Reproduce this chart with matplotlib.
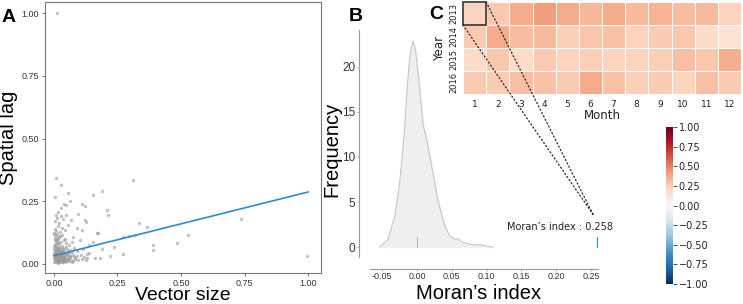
import numpy as np
import matplotlib
matplotlib.use("Agg")
import matplotlib.pyplot as plt
from matplotlib.patches import Rectangle, ConnectionPatch
from matplotlib.colors import Normalize

# ---------------- data ----------------
# Panel A scatter (vector size vs spatial lag)
scatter_x = [
    # dense cluster
    0.001,0.004,0.007,0.010,0.013,0.016,0.019,0.022,0.026,0.030,0.034,0.038,0.043,0.048,0.054,0.060,0.067,0.075,0.085,0.095,0.110,0.125,0.003,0.009,0.015,0.021,0.028,0.036,0.045,0.056,0.070,
    0.002,0.005,0.008,0.011,0.014,0.017,0.020,0.024,0.028,0.032,0.036,0.041,0.046,0.052,0.058,0.065,0.073,0.082,0.092,0.105,0.118,0.130,0.006,0.012,0.018,0.025,0.033,0.040,0.050,0.062,0.078,0.001,0.009,0.015,0.022,0.030,0.038,
    0.001,0.004,0.007,0.010,0.013,0.016,0.019,0.023,0.027,0.031,0.035,0.040,0.045,0.051,0.057,0.064,0.072,0.080,0.090,0.003,0.009,0.015,0.021,0.029,0.037,0.047,0.060,0.002,0.012,0.025,
    0.001,0.004,0.007,0.010,0.014,0.018,0.022,0.027,0.033,0.040,0.048,0.058,0.070,0.003,0.008,0.013,0.020,0.030,0.045,0.002,0.006,0.011,0.017,0.025,
    0.002,0.005,0.010,0.016,0.024,0.032,0.042,0.055,0.004,0.012,0.020,0.035,0.008,0.028,
    0.003,0.006,0.009,0.012,0.015,0.018,0.021,0.024,0.027,0.031,0.035,0.039,0.044,0.049,0.005,0.011,0.017,0.023,0.029,0.034,
    # scattered
    0.011,0.008,0.026,0.056,0.004,0.310,0.155,0.190,0.039,0.047,0.063,0.026,0.017,0.109,0.122,0.047,0.093,0.207,0.214,0.066,
    0.122,0.126,0.089,0.109,0.168,0.175,0.336,0.365,0.270,0.297,0.319,0.076,0.102,0.155,0.139,0.237,0.188,0.161,0.181,0.220,
    0.270,0.389,0.389,0.486,0.526,0.737,0.997,0.140,0.115,0.130,
]
scatter_y = [
    0.008,0.012,0.006,0.015,0.010,0.018,0.007,0.013,0.016,0.009,0.014,0.011,0.019,0.008,0.015,0.012,0.017,0.010,0.020,0.014,0.018,0.016,0.020,0.018,0.005,0.009,0.020,0.006,0.011,0.019,0.007,
    0.022,0.028,0.035,0.025,0.031,0.038,0.024,0.029,0.036,0.023,0.033,0.027,0.039,0.025,0.032,0.028,0.037,0.024,0.030,0.034,0.026,0.022,0.040,0.021,0.027,0.033,0.038,0.022,0.035,0.026,0.031,0.037,0.030,0.024,0.034,0.039,0.021,
    0.042,0.048,0.055,0.061,0.045,0.052,0.066,0.043,0.058,0.047,0.063,0.051,0.044,0.059,0.049,0.054,0.046,0.062,0.050,0.068,0.041,0.057,0.064,0.053,0.045,0.067,0.043,0.060,0.069,0.050,
    0.072,0.080,0.091,0.075,0.085,0.098,0.078,0.088,0.073,0.094,0.082,0.076,0.089,0.105,0.112,0.101,0.108,0.115,0.100,0.118,0.095,0.120,0.086,0.110,
    0.125,0.140,0.132,0.150,0.128,0.145,0.135,0.155,0.170,0.185,0.162,0.178,0.195,0.190,
    0.026,0.033,0.018,0.041,0.024,0.030,0.016,0.044,0.021,0.037,0.019,0.028,0.035,0.017,0.050,0.056,0.046,0.053,0.048,0.058,
    1.000,0.342,0.315,0.285,0.266,0.335,0.275,0.292,0.238,0.235,0.252,0.222,0.209,0.238,0.231,0.195,0.198,0.215,0.195,0.175,
    0.175,0.169,0.142,0.136,0.122,0.122,0.162,0.146,0.109,0.113,0.116,0.109,0.096,0.089,0.076,0.067,0.059,0.023,0.023,0.033,
    0.039,0.075,0.056,0.082,0.117,0.178,0.032,0.045,0.060,0.040,
]
fit_intercept = 0.033
fit_slope = 0.254
fit_x = [0.0, 1.0]

# Panel B density of Moran's index
density_x = [-0.054,-0.042,-0.032,-0.025,-0.019,-0.0144,-0.0105,-0.0057,-0.002,0.003,0.0086,0.016,0.023,0.030,0.040,0.047,0.054,0.059,0.066,0.080,0.092,0.100,0.109]
density_y = [0.0,0.8,3.4,7.1,11.9,17.4,21.1,22.9,21.8,18.2,13.7,11.1,8.2,5.2,2.3,1.2,0.9,0.9,0.5,0.26,0.26,0.1,0.0]
observed_moran = 0.258
null_mean = 0.0

# Panel C heatmap
years = ["2013", "2014", "2015", "2016"]
months = ["1","2","3","4","5","6","7","8","9","10","11","12"]
moran_2013 = [0.22,0.27,0.37,0.42,0.38,0.33,0.37,0.32,0.34,0.31,0.32,0.23]
moran_2014 = [0.26,0.37,0.31,0.32,0.24,0.28,0.29,0.23,0.25,0.27,0.19,0.14]
moran_2015 = [0.19,0.27,0.19,0.26,0.22,0.24,0.23,0.23,0.24,0.30,0.27,0.36]
moran_2016 = [0.26,0.25,0.30,0.29,0.26,0.37,0.29,0.24,0.25,0.22,0.30,0.26]
cbar_ticks = [-1.0,-0.75,-0.5,-0.25,0.0,0.25,0.5,0.75,1.0]

# ---------------- figure ----------------
W, H = 743, 304
fig = plt.figure(figsize=(W/100, H/100), dpi=100)

def fr(left, top, right, bottom):
    return [left/W, 1-bottom/H, (right-left)/W, (bottom-top)/H]

helv = "Liberation Sans"

# ---- Panel A ----
axA = fig.add_axes(fr(45, 2, 321, 273))
axA.scatter(scatter_x, scatter_y, s=6, color="#9a9a9a", alpha=0.6, linewidths=0, zorder=2)
fx = np.array(fit_x)
axA.plot(fx, fit_intercept + fit_slope*fx, color="#2a8bd5", lw=1.2, zorder=3)
axA.set_xlim(-0.035, 1.051)
axA.set_ylim(-0.036, 1.045)
ticks = [0, 0.25, 0.5, 0.75, 1.0]
axA.set_xticks(ticks)
axA.set_yticks(ticks)
axA.set_xticklabels(["%.2f" % t for t in ticks], fontsize=6.5, family=helv, color="#333333")
axA.set_yticklabels(["%.2f" % t for t in ticks], fontsize=6.5, family=helv, color="#333333")
axA.tick_params(length=2.5, width=0.6, color="#555555", pad=2)
for s in axA.spines.values():
    s.set_color("#777777"); s.set_linewidth(0.8)
axA.set_xlabel("Vector size", fontsize=14, family=helv, labelpad=-1)
axA.set_ylabel("Spatial lag", fontsize=14.5, family=helv, labelpad=2)
fig.text(2/W, 1-22/H, "A", fontsize=14, fontweight="bold", family=helv)

# ---- Panel B ----
axB = fig.add_axes(fr(359, 30, 598, 269))
axB.fill_between(density_x, 0, density_y, color="#efefef", zorder=1)
axB.plot(density_x, density_y, color="#c4c4c4", lw=0.7, zorder=2)
axB.plot([null_mean, null_mean], [0, 1.1], color="#b0b0b0", lw=0.7, zorder=3)
axB.plot([observed_moran, observed_moran], [0, 1.1], color="#2a8bd5", lw=0.9, zorder=3)
axB.set_xlim(-0.0833, 0.26)
axB.set_ylim(-2.44, 24.1)
axB.set_xticks([-0.05, 0, 0.05, 0.1, 0.15, 0.2, 0.25])
axB.set_xticklabels(["-0.05","0.00","0.05","0.10","0.15","0.20","0.25"], fontsize=6.5, family=helv, color="#333333")
axB.set_yticks([0, 5, 10, 15, 20])
axB.set_yticklabels(["0","5","10","15","20"], fontsize=8.5, family=helv, color="#333333")
axB.tick_params(length=1.5, width=0.5, color="#999999", pad=1)
axB.spines["top"].set_visible(False)
axB.spines["right"].set_visible(False)
axB.spines["left"].set_bounds(-1.1, 24.1)
axB.spines["bottom"].set_bounds(-0.0675, 0.26)
for s in ("left", "bottom"):
    axB.spines[s].set_color("#999999"); axB.spines[s].set_linewidth(0.8)
axB.patch.set_alpha(0)
axB.set_xlabel("Moran\u2019s index", fontsize=14.5, family=helv, labelpad=2)
axB.set_ylabel("Frequency", fontsize=14.5, family=helv, labelpad=1)
axB.text(0.2055, 2.2, "Moran\u2019s index : 0.258", fontsize=7, ha="center", va="center",
         family="DejaVu Sans", color="#222222")
fig.text(349/W, 1-21/H, "B", fontsize=14, fontweight="bold", family=helv)

# ---- Panel C ----
axC = fig.add_axes(fr(463, 2, 741, 94))
vals = np.array([moran_2013, moran_2014, moran_2015, moran_2016])
norm = Normalize(-1, 1)
mesh = axC.pcolormesh(vals, cmap="RdBu_r", norm=norm, edgecolors="white", linewidth=0.6)
axC.set_xlim(0, len(months))
axC.set_ylim(len(years), 0)
axC.set_xticks(np.arange(len(months)) + 0.5)
axC.set_xticklabels(months, fontsize=6.5, family="DejaVu Sans", color="#222222")
axC.set_yticks(np.arange(len(years)) + 0.5)
axC.set_yticklabels(years, fontsize=6, family="DejaVu Sans", color="#222222", rotation=90, va="center")
axC.tick_params(axis="x", length=0, pad=4)
axC.tick_params(axis="y", length=0, pad=3)
for s in axC.spines.values():
    s.set_visible(False)
axC.set_xlabel("Month", fontsize=8.5, family="DejaVu Sans", color="#222222", labelpad=0.5)
axC.set_ylabel("Year", fontsize=8.5, family="DejaVu Sans", color="#222222", labelpad=3)
axC.add_patch(Rectangle((0, 0), 1, 1, fill=False, edgecolor="#333333", lw=1.2, zorder=5, clip_on=False))
fig.text(429/W, 1-19/H, "C", fontsize=14, fontweight="bold", family=helv)

# connectors
for (xa, ya) in [(0, 1), (1, 0)]:
    con = ConnectionPatch(xyA=(xa, ya), coordsA=axC.transData,
                          xyB=(0.253, 3.6), coordsB=axB.transData,
                          linestyle=(0, (1, 2)), color="#222222", lw=0.9, zorder=10)
    fig.add_artist(con)

# colorbar
cax = fig.add_axes(fr(666, 127, 673, 284))
cb = fig.colorbar(mesh, cax=cax, ticks=cbar_ticks)
cb.outline.set_visible(False)
cb.ax.set_yticklabels(["%.2f" % t if t >= 0 else "\u2212%.2f" % abs(t) for t in cbar_ticks])
cb.ax.tick_params(labelsize=7, length=3, width=0.6, color="#333333", labelcolor="#222222", pad=1)

fig.savefig("out.png", dpi=100)
